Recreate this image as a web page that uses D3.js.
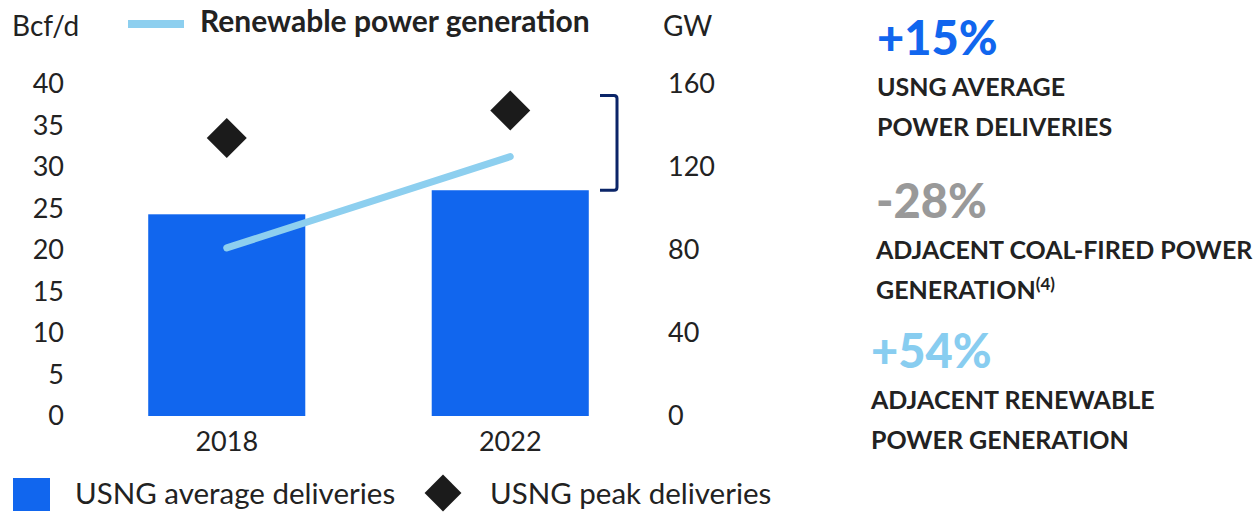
<!DOCTYPE html>
<html>
<head>
<meta charset="utf-8">
<script src="https://cdn.jsdelivr.net/npm/d3@7"></script>
<style>
  body { margin: 0; background: #fff; }
  svg { display: block; font-family: Lato, 'Open Sans', sans-serif; }
  .axis text { font-family: Lato, 'Open Sans', sans-serif; font-size: 27px; fill: #222; }
  .axis .domain { display: none; }
</style>
</head>
<body>
<svg id="chart" width="1258" height="513"></svg>
<script>
const years = ['2018', '2022'];
const avgDeliveries = [24.3, 27.2];   // Bcf/d, bars
const peakDeliveries = [33.5, 36.8];  // Bcf/d, diamonds
const renewables = [81, 125];         // GW, line
const leftTicks = [0, 5, 10, 15, 20, 25, 30, 35, 40];
const rightTicks = [0, 40, 80, 120, 160];
const bracketRange = [27.2, 38.6];    // Bcf/d span marked on the right
const stats = [
  { value: '+15%', color: '#1166ee', lines: ['USNG AVERAGE', 'POWER DELIVERIES'] },
  { value: '-28%', color: '#999999', lines: ['ADJACENT COAL-FIRED POWER', 'GENERATION'], note: '(4)' },
  { value: '+54%', color: '#88cdf0', lines: ['ADJACENT RENEWABLE', 'POWER GENERATION'] }
];

const colors = { bar: '#1166ee', peak: '#1b1b1b', line: '#8dcfef', bracket: '#0b2568', text: '#222' };

const svg = d3.select('#chart');

const x = d3.scaleBand().domain(years).range([85, 652]).paddingInner(0.446).paddingOuter(0.223);
const yL = d3.scaleLinear().domain([0, 40]).range([416, 84]);
const yR = d3.scaleLinear().domain([0, 160]).range([416, 84]);
const cx = d => x(d) + x.bandwidth() / 2;

// axes
svg.append('g').attr('class', 'y axis')
  .attr('transform', 'translate(64,0)')
  .call(d3.axisLeft(yL).tickValues(leftTicks).tickSize(0).tickPadding(0));

svg.append('g').attr('class', 'y2 axis')
  .attr('transform', 'translate(668,0)')
  .call(d3.axisRight(yR).tickValues(rightTicks).tickSize(0).tickPadding(0));

svg.append('g').attr('class', 'x axis')
  .attr('transform', 'translate(0,416)')
  .call(d3.axisBottom(x).tickSize(0).tickPadding(16));

svg.append('text').attr('x', 12).attr('y', 36).attr('font-size', 28).attr('fill', colors.text).text('Bcf/d');
svg.append('text').attr('x', 663).attr('y', 36).attr('font-size', 28).attr('fill', colors.text).text('GW');

// bars
svg.selectAll('rect.bar').data(years).join('rect')
  .attr('class', 'bar')
  .attr('x', d => x(d))
  .attr('width', x.bandwidth())
  .attr('y', (d, i) => yL(avgDeliveries[i]))
  .attr('height', (d, i) => yL(0) - yL(avgDeliveries[i]))
  .attr('fill', colors.bar);

// renewable line
svg.append('path')
  .datum(years)
  .attr('d', d3.line().x(d => cx(d)).y((d, i) => yR(renewables[i])))
  .attr('fill', 'none')
  .attr('stroke', colors.line)
  .attr('stroke-width', 7)
  .attr('stroke-linecap', 'round');

// peak diamonds
const diamond = d3.symbol().type(d3.symbolSquare).size(800);
svg.selectAll('path.peak').data(years).join('path')
  .attr('class', 'peak')
  .attr('d', diamond)
  .attr('transform', (d, i) => `translate(${cx(d)},${yL(peakDeliveries[i])}) rotate(45)`)
  .attr('fill', colors.peak);

// bracket
const bx = 617, by0 = yL(bracketRange[1]), by1 = yL(bracketRange[0]);
svg.append('path')
  .attr('d', `M${bx - 17},${by0} H${bx - 3} Q${bx},${by0} ${bx},${by0 + 3} V${by1 - 3} Q${bx},${by1} ${bx - 3},${by1} H${bx - 17}`)
  .attr('fill', 'none')
  .attr('stroke', colors.bracket)
  .attr('stroke-width', 3);

// top legend
svg.append('line').attr('x1', 128).attr('x2', 184).attr('y1', 24).attr('y2', 24)
  .attr('stroke', colors.line).attr('stroke-width', 8);
svg.append('text').attr('x', 200).attr('y', 32).attr('font-size', 30).attr('font-weight', 700)
  .attr('fill', colors.text).text('Renewable power generation');

// bottom legend
svg.append('rect').attr('x', 13).attr('y', 478).attr('width', 37).attr('height', 33).attr('fill', colors.bar);
svg.append('text').attr('x', 75).attr('y', 504).attr('font-size', 29.5).attr('fill', colors.text).text('USNG average deliveries');
svg.append('path').attr('d', d3.symbol().type(d3.symbolSquare).size(680))
  .attr('transform', 'translate(443,493) rotate(45)').attr('fill', colors.peak);
svg.append('text').attr('x', 490).attr('y', 504).attr('font-size', 29.5).attr('fill', colors.text).text('USNG peak deliveries');

// right-hand stats
const statTop = [55, 218, 368];
const statX = [877, 876, 871];
stats.forEach((s, i) => {
  const g = svg.append('g').attr('transform', `translate(${statX[i]},${statTop[i]})`);
  g.append('text').attr('font-size', 47).attr('font-weight', 900).attr('fill', s.color).text(s.value);
  s.lines.forEach((line, j) => {
    const t = g.append('text').attr('y', 41 + j * 40).attr('font-size', 25).attr('font-weight', 700)
      .attr('fill', colors.text).text(line);
    if (s.note && j === s.lines.length - 1) {
      t.append('tspan').attr('font-size', 17).attr('dy', -9).text(s.note);
    }
  });
});
</script>
</body>
</html>
